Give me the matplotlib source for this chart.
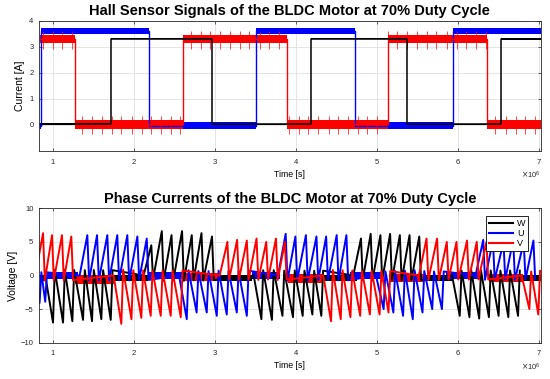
import numpy as np
import matplotlib
matplotlib.use("Agg")
import matplotlib.pyplot as plt
from matplotlib.ticker import ScalarFormatter

plt.rcParams['font.family'] = ['Liberation Sans', 'DejaVu Sans']

# ---------------- data (time in units of 1e6 s) ----------------
SCALE = 1e6
x_ticks = [1, 2, 3, 4, 5, 6, 7]

# Hall sensor step signals: transition times and level in each interval
hall_blue_t = [0.83, 0.848, 2.178, 3.50, 4.727, 5.94, 7.02]
hall_blue_lv = [-0.05, 3.62, -0.02, 3.62, -0.02, 3.62]
hall_blue_hw = [0.10, 0.11, 0.13, 0.11, 0.13, 0.11]

hall_red_t = [0.83, 1.27, 2.60, 3.887, 5.13, 6.36, 7.02]
hall_red_lv = [3.30, 0.03, 3.30, 0.03, 3.30, 0.03]
hall_red_hw = [0.16, 0.17, 0.16, 0.17, 0.16, 0.17]

hall_black_t = [0.83, 1.717, 2.96, 4.18, 5.37, 6.53, 7.02]
hall_black_lv = [0.04, 3.32, 0.02, 3.32, 0.02, 3.30]
hall_black_hw = [0.03, 0.03, 0.03, 0.03, 0.03, 0.03]

red_spike_t = [0.87, 0.99, 1.11, 1.23, 1.36, 1.48, 1.60, 1.72, 1.84, 1.97,
               2.09, 2.21, 2.33, 2.45, 2.57, 2.70, 2.82, 2.94, 3.06, 3.18,
               3.30, 3.42, 3.55, 3.67, 3.79, 3.91, 4.03, 4.15, 4.27, 4.40,
               4.52, 4.64, 4.76, 4.88, 5.00, 5.13, 5.25, 5.37, 5.49, 5.61,
               5.73, 5.86, 5.98, 6.10, 6.22, 6.34, 6.46, 6.59, 6.71, 6.83,
               6.95]

# Phase currents: tooth peak times / values per phase
W_peak_t = [0.996, 1.12, 1.235, 1.367, 1.478, 1.593, 1.709,
            2.21, 2.34, 2.46, 2.59, 2.71, 2.83, 2.96,
            3.57, 3.70, 3.83, 3.96, 4.08, 4.20, 4.31,
            4.80, 4.92, 5.04, 5.16, 5.28, 5.40, 5.52,
            6.02, 6.14, 6.26, 6.38, 6.50, 6.62, 6.74]
W_peak_v = [-7.0, -7.0, -6.8, -6.6, -6.8, -6.5, -6.6,
            4.5, 6.6, 6.0, 6.6, 6.0, 6.3, 5.8,
            -6.5, -6.6, -6.0, -6.2, -6.0, -5.8, -6.0,
            5.5, 6.2, 6.0, 6.2, 6.0, 6.0, 5.8,
            -6.0, -6.2, -6.4, -6.2, -6.0, -6.2, -6.0]
W_flat_t0 = [0.83, 1.74, 3.03, 4.33, 5.55, 6.80]
W_flat_t1 = [0.90, 2.17, 3.45, 4.75, 5.92, 7.02]
W_flat_lo = [-0.8, -0.8, -0.8, -0.8, -0.8, -0.8]
W_flat_hi = [0.1, 0.1, 0.1, 0.1, 0.1, 0.1]

U_peak_t = [0.83, 0.90,
            1.42, 1.54, 1.667, 1.79, 1.914, 2.038, 2.154,
            2.648, 2.77, 2.895, 3.019, 3.142, 3.266, 3.39,
            3.87, 3.99, 4.12, 4.25, 4.37, 4.50, 4.62,
            5.08, 5.20, 5.32, 5.44, 5.56, 5.68, 5.80,
            6.31, 6.43, 6.56, 6.68, 6.81, 6.93]
U_peak_v = [-4.1, -3.9,
            6.0, 6.0, 6.0, 6.0, 6.0, 5.8, 5.5,
            -6.5, -5.5, -5.5, -6.0, -5.8, -5.5, -6.0,
            6.2, 5.8, 6.0, 5.8, 5.8, 6.0, 6.0,
            -5.0, -5.5, -6.0, -6.5, -5.5, -5.0, -5.0,
            5.3, 5.3, 5.0, 5.3, 5.0, 5.2]
U_flat_t0 = [0.92, 2.17, 3.45, 4.66, 5.85]
U_flat_t1 = [1.30, 2.60, 3.80, 5.05, 6.28]
U_flat_lo = [-0.45, -0.45, -0.45, -0.45, -0.45]
U_flat_hi = [0.45, 0.45, 0.45, 0.45, 0.45]

V_peak_t = [0.873, 0.984, 1.107, 1.222,
            1.84, 1.965, 2.087, 2.203, 2.327, 2.45, 2.574,
            3.15, 3.27, 3.39, 3.51, 3.63, 3.75, 3.86,
            4.43, 4.55, 4.67, 4.79, 4.91, 5.03, 5.14,
            5.61, 5.74, 5.86, 5.98, 6.11, 6.23, 6.35,
            6.88, 6.99]
V_peak_v = [6.3, 6.0, 6.0, 5.8,
            -7.2, -6.5, -6.3, -6.0, -6.0, -6.0, -6.2,
            5.0, 5.3, 5.2, 5.5, 5.0, 5.5, 5.0,
            -6.8, -6.5, -6.2, -6.0, -5.8, -5.8, -5.5,
            5.5, 5.5, 5.0, 5.0, 5.2, 5.0, 5.0,
            -5.0, -5.8]
V_flat_t0 = [1.27, 2.60, 3.90, 5.15, 6.38]
V_flat_t1 = [1.75, 3.06, 4.33, 5.57, 6.80]
V_flat_lo = [-1.2, -0.8, -1.1, -1.0, -1.0]
V_flat_hi = [0.1, 0.4, 0.2, 0.2, 0.2]

legend_labels = ['W', 'U', 'V']

# ---------------- styling ----------------
AX_COL = '#262626'
GRID_COL = '#DFDFDF'
RISE, FALL = 0.095, 0.022

fig = plt.figure(figsize=(5.5, 3.79), dpi=100)
ax1 = fig.add_axes([0.0709, 0.6016, 0.9122, 0.343])
ax2 = fig.add_axes([0.0709, 0.0958, 0.9122, 0.3546])


def style_axes(ax):
    ax.grid(True, color=GRID_COL, lw=0.6)
    ax.set_axisbelow(True)
    for s in ax.spines.values():
        s.set_color(AX_COL)
        s.set_linewidth(0.6)
    ax.tick_params(direction='in', length=2.5, width=0.5, colors=AX_COL,
                   labelsize=5.5, top=True, right=True, pad=4)
    ax.set_xticks([v * SCALE for v in x_ticks])
    fmt = ScalarFormatter(useMathText=True)
    fmt.set_powerlimits((0, 0))
    ax.xaxis.set_major_formatter(fmt)
    ax.xaxis.get_offset_text().set_fontsize(5.5)
    ax.xaxis.get_offset_text().set_color(AX_COL)
    ax.set_xlim(0.823 * SCALE, 7.02 * SCALE)
    ax.set_xlabel('Time [s]', fontsize=6.3, labelpad=3, color='black')


def draw_hall(ax, t, lv, hw, color, lw):
    xs, ys = [], []
    for i, level in enumerate(lv):
        xs += [t[i], t[i + 1]]
        ys += [level, level]
        ax.fill_between([t[i] * SCALE, t[i + 1] * SCALE],
                        level - hw[i], level + hw[i], color=color, lw=0)
    ax.plot(np.array(xs) * SCALE, ys, color=color, lw=lw)


def level_at(t, times, levels):
    for i in range(len(levels)):
        if times[i] <= t < times[i + 1]:
            return levels[i]
    return levels[-1]


def draw_phase(ax, peak_t, peak_v, f0, f1, flo, fhi, color, label):
    for a, b, lo, hi in zip(f0, f1, flo, fhi):
        ax.fill_between([a * SCALE, b * SCALE], lo, hi, color=color, lw=0)
    xs, ys = [], []
    prev = None
    for p, v in zip(peak_t, peak_v):
        if prev is None or p - prev > 0.2:
            xs.append(p - RISE)
            ys.append(0.0)
        xs += [p, p + FALL]
        ys += [v, -0.12 * v]
        prev = p
    line, = ax.plot(np.array(xs) * SCALE, ys, color=color, lw=1.4, label=label)
    return line


# ---------------- top: hall sensors ----------------
style_axes(ax1)
draw_hall(ax1, hall_blue_t, hall_blue_lv, hall_blue_hw, 'b', 1.0)
draw_hall(ax1, hall_red_t, hall_red_lv, hall_red_hw, 'r', 1.0)
spike_lv = [level_at(t, hall_red_t, hall_red_lv) for t in red_spike_t]
ax1.vlines([t * SCALE for t in red_spike_t], [l - 0.38 for l in spike_lv],
           [l + 0.32 for l in spike_lv], color='r', lw=0.5)
draw_hall(ax1, hall_black_t, hall_black_lv, hall_black_hw, 'k', 1.1)
ax1.set_ylim(-1, 4)
ax1.set_yticks([0, 1, 2, 3, 4])
ax1.set_ylabel('Current [A]', fontsize=7.5, labelpad=3)
ax1.set_title('Hall Sensor Signals of the BLDC Motor at 70% Duty Cycle',
              fontsize=10.5, fontweight='bold', pad=4)

# ---------------- bottom: phase currents ----------------
style_axes(ax2)
lw_ = draw_phase(ax2, W_peak_t, W_peak_v, W_flat_t0, W_flat_t1, W_flat_lo,
                 W_flat_hi, 'k', legend_labels[0])
lu_ = draw_phase(ax2, U_peak_t, U_peak_v, U_flat_t0, U_flat_t1, U_flat_lo,
                 U_flat_hi, 'b', legend_labels[1])
lv_ = draw_phase(ax2, V_peak_t, V_peak_v, V_flat_t0, V_flat_t1, V_flat_lo,
                 V_flat_hi, 'r', legend_labels[2])
ax2.set_ylim(-10, 10)
ax2.set_yticks([-10, -5, 0, 5, 10])
ax2.set_ylabel('Voltage [V]', fontsize=7.5, labelpad=2)
ax2.set_title('Phase Currents of the BLDC Motor at 70% Duty Cycle',
              fontsize=10.5, fontweight='bold', pad=4)
leg = ax2.legend(handles=[lw_, lu_, lv_], loc='upper right',
                 bbox_to_anchor=(0.975, 0.943), borderaxespad=0,
                 fontsize=6.5, handlelength=2.7, handletextpad=0.4,
                 borderpad=0.3, labelspacing=0.15, fancybox=False,
                 framealpha=1, edgecolor='black', markerfirst=True)
leg.get_frame().set_linewidth(0.6)
for h in leg.get_lines():
    h.set_linewidth(1.5)

fig.savefig('out.png', dpi=100)
